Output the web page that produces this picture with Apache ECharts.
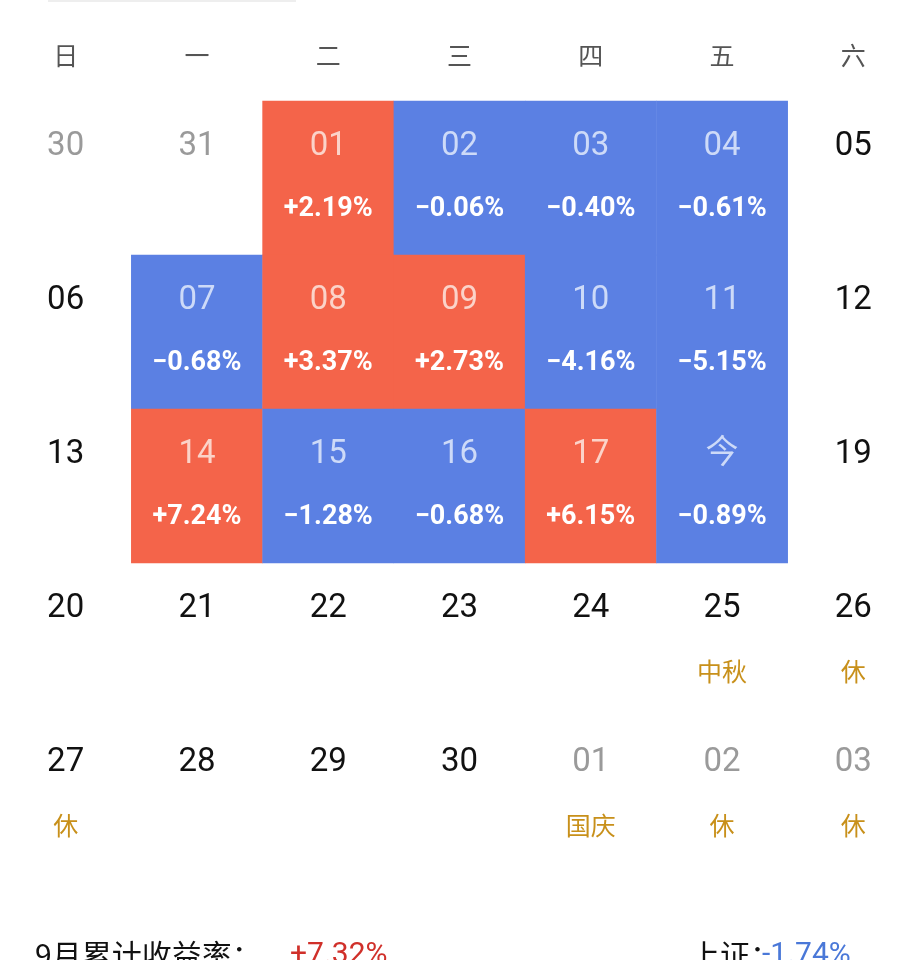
<!DOCTYPE html>
<html><head><meta charset="utf-8">
<script src="https://cdn.jsdelivr.net/npm/echarts@6/dist/echarts.min.js"></script>
<style>html,body{margin:0;padding:0;background:#fff}#c{width:919px;height:960px}</style>
</head><body><div id="c"></div>
<script>
const weekdays = ['日','一','二','三','四','五','六'];
const rows = ['w1','w2','w3','w4','w5'];
const days = ['30','31','01','02','03','04','05',
              '06','07','08','09','10','11','12',
              '13','14','15','16','17','今','19',
              '20','21','22','23','24','25','26',
              '27','28','29','30','01','02','03'];
const otherMonth = [1,1,0,0,0,0,0, 0,0,0,0,0,0,0, 0,0,0,0,0,0,0, 0,0,0,0,0,0,0, 0,0,0,0,1,1,1];
const pcts = [null,null,2.19,-0.06,-0.40,-0.61,null,
              null,-0.68,3.37,2.73,-4.16,-5.15,null,
              null,7.24,-1.28,-0.68,6.15,-0.89,null,
              null,null,null,null,null,null,null,
              null,null,null,null,null,null,null];
const notes = ['','','','','','','', '','','','','','','', '','','','','','','',
               '','','','','','中秋','休', '休','','','','国庆','休','休'];

const RED='#F4644A', BLUE='#5B80E3';
const data = days.map((d,i)=>{
  const col=i%7, row=Math.floor(i/7), p=pcts[i];
  let color='rgba(0,0,0,0)', top, bottom, tcol, bcol='#C8901A';
  if(p!==null){
    color = p>=0?RED:BLUE;
    top=d; bottom=(p>=0?'+':'−')+Math.abs(p).toFixed(2)+'%';
    tcol = p>=0?'#FBD3C9':'#CDDAF8'; bcol='#fff';
  } else {
    top=d; bottom=notes[i]||' ';
    tcol = otherMonth[i]?'#9A9A9A':'#111';
  }
  return {value:[col,row,p===null?0:p], itemStyle:{color}, _t:top, _b:bottom,
    label:{show:true, formatter:'{a|'+top+'}\n{'+(p!==null?'b':'n')+'|'+bottom+'}',
      rich:{a:{fontSize:33,color:tcol,lineHeight:63,fontFamily:'Roboto, Noto Sans CJK SC'},
            b:{fontSize:27,color:bcol,fontWeight:'bold',lineHeight:63,fontFamily:'Roboto, Noto Sans CJK SC'},
            n:{fontSize:25,color:bcol,lineHeight:63,fontFamily:'Noto Sans CJK SC'}}}};
});

const chart = echarts.init(document.getElementById('c'));
chart.setOption({
  animation:false,
  grid:{left:0,width:919,top:101,height:770},
  xAxis:{type:'category',data:weekdays,position:'top',axisLine:{show:false},axisTick:{show:false},
    axisLabel:{margin:33,fontSize:25,color:'#555',fontFamily:'Noto Sans CJK SC'},splitLine:{show:false}},
  yAxis:{type:'category',data:rows,inverse:true,show:false},
  series:[{type:'heatmap',data:data,itemStyle:{borderWidth:0}}],
  graphic:[
    {type:'rect',shape:{x:48,y:0,width:248,height:2},style:{fill:'#eee'}},
    {type:'text',left:35,top:940,style:{text:'9月累计收益率：',fontSize:30,fill:'#111',fontFamily:'Noto Sans CJK SC'}},
    {type:'text',left:290,top:940,style:{text:'+7.32%',fontSize:30,fill:'#D0302A',fontFamily:'Roboto'}},
    {type:'text',left:690,top:940,style:{text:'上证：',fontSize:30,fill:'#111',fontFamily:'Noto Sans CJK SC'}},
    {type:'text',left:762,top:940,style:{text:'-1.74%',fontSize:30,fill:'#4A78D8',fontFamily:'Roboto'}}
  ]
});
</script></body></html>
